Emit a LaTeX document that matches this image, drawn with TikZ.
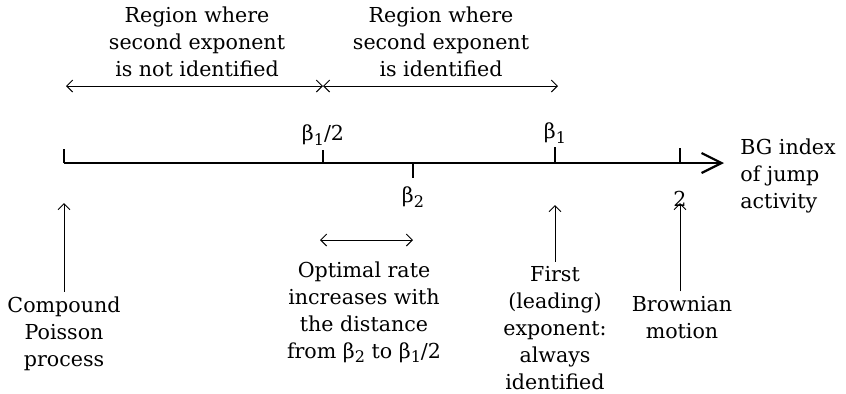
\documentclass[tikz,border=0pt]{standalone}
\usepackage{fontspec}
\setmainfont{DejaVu Serif}
\usetikzlibrary{positioning,arrows.meta}
\newcommand{\bt}[1]{β\raisebox{-0.4ex}{\fontsize{8}{8}\selectfont #1}}

\begin{document}
\begin{tikzpicture}[x=0.5pt,y=-0.5pt,font=\fontsize{10.3}{13.5}\selectfont,
    txt/.style={align=center,inner sep=0pt},
    axis/.style={line width=1.1pt},
    thin/.style={line width=0.5pt,{Straight Barb[length=3pt,width=6pt]}-{Straight Barb[length=3pt,width=6pt]}},
    upar/.style={line width=0.5pt,-{Straight Barb[length=3pt,width=6pt]}}]
  \useasboundingbox (0,0) rectangle (846,393);
  % the axis
  \coordinate (o) at (64,163);
  \coordinate (hb) at (323,163);
  \coordinate (b2) at (413,163);
  \coordinate (b1) at (555,163);
  \coordinate (two) at (680,163);
  \coordinate (tip) at (724,163);
  \draw[axis,-{Straight Barb[length=10pt,width=10pt,line width=1.1pt]}] (o) -- (tip);
  \draw[axis] (o) -- ++(0,-14);
  \draw[axis] (hb) -- ++(0,-13);
  \draw[axis] (b2) -- ++(0,15);
  \draw[axis] (b1) -- ++(0,-16);
  \draw[axis] (two) -- ++(0,-15);
  \node[txt] (lhb) at (323,135) {\bt{1}/2};
  \node[txt] (lb1) at (555,133) {\bt{1}};
  \node[txt] (lb2) at (413,197) {\bt{2}};
  \node[txt] (l2) at (680,199) {2};
  \node[txt,align=left,anchor=west] (bg) at (740,176) {BG index\\of jump\\activity};
  % regions above
  \coordinate (ra) at (66,86);
  \coordinate (rm) at (323,86);
  \coordinate (rb) at (558,86);
  \draw[thin] (ra) -- (rm);
  \draw[thin] (rm) -- (rb);
  \node[txt] (reg1) at (197,42) {Region where\\second exponent\\is not identified};
  \node[txt] (reg2) at (441,42) {Region where\\second exponent\\is identified};
  % labels below
  \node[txt] (cp) at (64,334) {Compound\\Poisson\\process};
  \draw[upar] (cp.north) ++(0,-5) -- (64,203);
  \coordinate (da) at (320,240);
  \coordinate (db) at (413,240);
  \draw[thin] (da) -- (db);
  \node[txt] (opt) at (364,312) {Optimal rate\\increases with\\the distance\\from \bt{2} to \bt{1}/2};
  \node[txt] (first) at (555,328) {First\\(leading)\\exponent:\\always\\identified};
  \draw[upar] (first.north) ++(0,-4) -- (555,205);
  \node[txt] (brm) at (682,318) {Brownian\\motion};
  \draw[upar] (brm.north -| two) ++(0,-5) -- (680,203);
\end{tikzpicture}
\end{document}
